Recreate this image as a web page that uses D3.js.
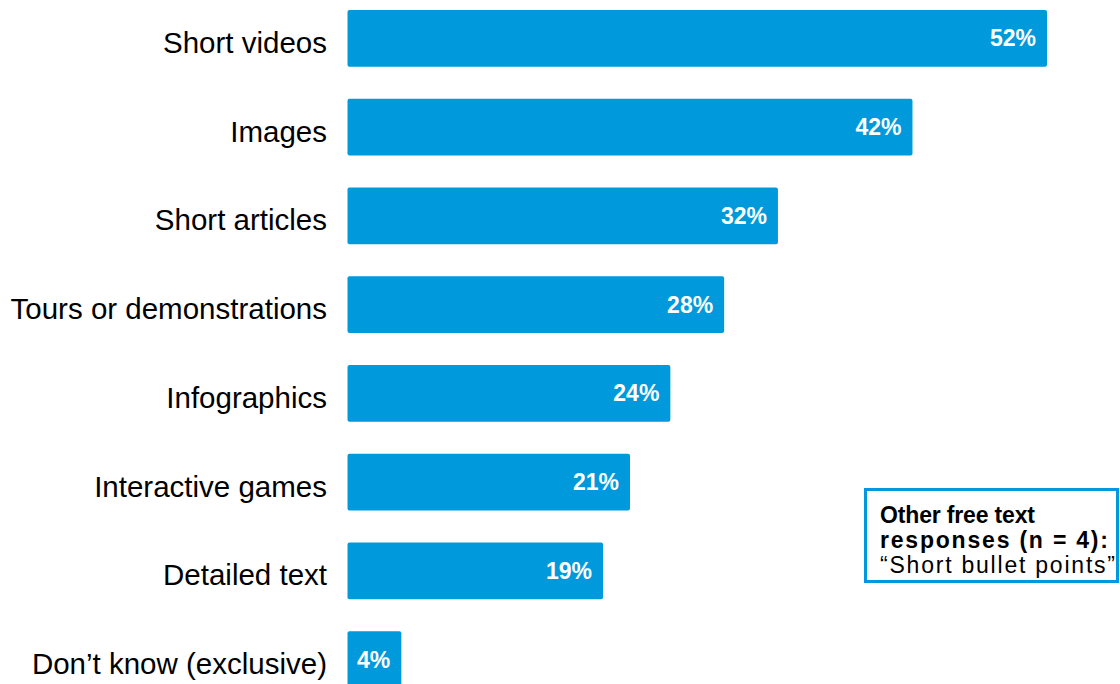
<!DOCTYPE html>
<html>
<head>
<meta charset="utf-8">
<script src="https://cdn.jsdelivr.net/npm/d3@7"></script>
<style>
  body { margin: 0; background: #fff; }
  svg { display: block; font-family: "Liberation Sans", Arial, sans-serif; }
</style>
</head>
<body>
<svg id="chart" width="1120" height="684"></svg>
<script>
// data
var categories = ["Short videos", "Images", "Short articles", "Tours or demonstrations",
  "Infographics", "Interactive games", "Detailed text", "Don\u2019t know (exclusive)"];
var values = [52, 42, 32, 28, 24, 21, 19, 4];
var noteLines = ["Other free text", "responses (n = 4):", "\u201cShort bullet points\u201d"];

var svg = d3.select('#chart');
var barColor = '#0099dc';

// x: 0% at 347px, ~13.45px per point
var x = d3.scaleLinear().domain([0, 52]).range([347.5, 1047]);
// step ~88.7px, bars ~57px tall, last bar runs off the bottom
var y = d3.scaleBand().domain(categories).range([10, 688]).paddingInner(0.36).paddingOuter(0);

var rows = svg.selectAll('g.row')
  .data(categories.map(function(c, i){ return {cat: c, val: values[i]}; }))
  .enter().append('g')
  .attr('class', 'row');

rows.append('rect')
  .attr('x', x(0))
  .attr('y', function(d){ return y(d.cat); })
  .attr('width', function(d){ return x(d.val) - x(0); })
  .attr('height', y.bandwidth())
  .attr('rx', 2)
  .attr('fill', barColor);

// category labels, right aligned left of the bars
rows.append('text')
  .attr('x', 327)
  .attr('y', function(d){ return y(d.cat) + y.bandwidth()/2 + 14.5; })
  .attr('text-anchor', 'end')
  .attr('font-size', 29.5)
  .attr('fill', '#000')
  .text(function(d){ return d.cat; });

// value labels inside the bar end
rows.append('text')
  .attr('x', function(d){ return x(d.val) - 11; })
  .attr('y', function(d){ return y(d.cat) + y.bandwidth()/2 + 8; })
  .attr('text-anchor', 'end')
  .attr('font-size', 23)
  .attr('font-weight', 'bold')
  .attr('fill', '#fff')
  .text(function(d){ return d.val + '%'; });

// note box
var note = svg.append('g');
note.append('rect')
  .attr('x', 865.5)
  .attr('y', 489.5)
  .attr('width', 252)
  .attr('height', 92)
  .attr('fill', '#fff')
  .attr('stroke', barColor)
  .attr('stroke-width', 3);

var lineWidths = [155, 228, 235];
note.selectAll('text')
  .data(noteLines)
  .enter().append('text')
  .attr('x', 880)
  .attr('y', function(d, i){ return 523 + i*25; })
  .attr('font-size', 23)
  .attr('font-weight', function(d, i){ return i < 2 ? 'bold' : 'normal'; })
  .attr('textLength', function(d, i){ return lineWidths[i]; })
  .attr('lengthAdjust', 'spacing')
  .attr('fill', '#000')
  .text(function(d){ return d; });
</script>
</body>
</html>
